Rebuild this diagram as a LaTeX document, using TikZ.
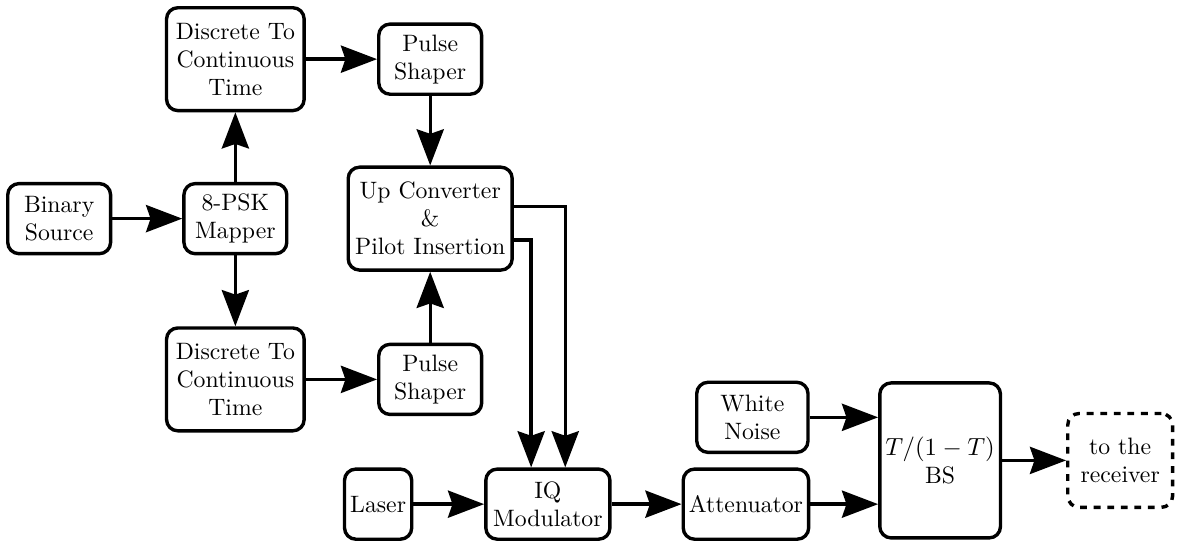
\documentclass[tikz,border=0pt]{standalone}
\usepackage{tikz}
\usetikzlibrary{arrows.meta}
\usepackage{amsmath}

\begin{document}
\begin{tikzpicture}[
  blk/.style={draw, rounded corners=5pt, line width=1.5pt, align=center, inner sep=2.5pt, minimum width=1.6cm, minimum height=1.09cm, font=\fontsize{10.5}{12.4}\selectfont},
  arr/.style={line width=1.5pt, -{Stealth[length=16pt, width=12pt, inset=2pt]}}]
\useasboundingbox (0, 0) rectangle (18.35, 8.40);

\node [blk] (bin) at (0.92, 5.00) {Binary\\Source};
\node [blk] (map) at (3.66, 5.00) {8-PSK\\Mapper};
\node [blk, minimum width=2.14cm, minimum height=1.6cm] (dtcA) at (3.66, 7.48) {Discrete To\\Continuous\\Time};
\node [blk, minimum width=2.14cm, minimum height=1.6cm] (dtcB) at (3.66, 2.50) {Discrete To\\Continuous\\Time};
\node [blk] (psA) at (6.69, 7.48) {Pulse\\Shaper};
\node [blk] (psB) at (6.69, 2.50) {Pulse\\Shaper};
\node [blk, minimum width=2.55cm, minimum height=1.6cm] (upc) at (6.69, 5.00) {Up Converter\\\&\\Pilot Insertion};

\node [blk, minimum width=1.04cm] (laser) at (5.88, 0.56) {Laser};
\node [blk, minimum width=1.93cm] (iq) at (8.52, 0.56) {IQ\\Modulator};
\node [blk, minimum width=1.9cm] (att) at (11.60, 0.56) {Attenuator};
\node [blk, minimum width=1.73cm] (noise) at (11.70, 1.91) {White\\Noise};
\node [blk, minimum width=1.8cm, minimum height=2.41cm] (bs) at (14.62, 1.24) {$T/(1-T)$\\BS};
\node [blk, dashed, minimum width=1.63cm, minimum height=1.46cm] (rx) at (17.42, 1.24) {to the\\receiver};

\draw [arr] (bin) -- (map);
\draw [arr] (map) -- (dtcA);
\draw [arr] (map) -- (dtcB);
\draw [arr] (dtcA) -- (psA);
\draw [arr] (dtcB) -- (psB);
\draw [arr] (psA) -- (upc);
\draw [arr] (psB) -- (upc);

\draw [arr] ([yshift=0.19cm]upc.east) -| ([xshift=0.27cm]iq.north);
\draw [arr] ([yshift=-0.33cm]upc.east) -| ([xshift=-0.26cm]iq.north);

\draw [arr] (laser) -- (iq);
\draw [arr] (iq) -- (att);
\draw [arr] (noise) -- (noise -| bs.west);
\draw [arr] (att) -- (att -| bs.west);
\draw [arr] (bs) -- (rx);
\end{tikzpicture}
\end{document}
